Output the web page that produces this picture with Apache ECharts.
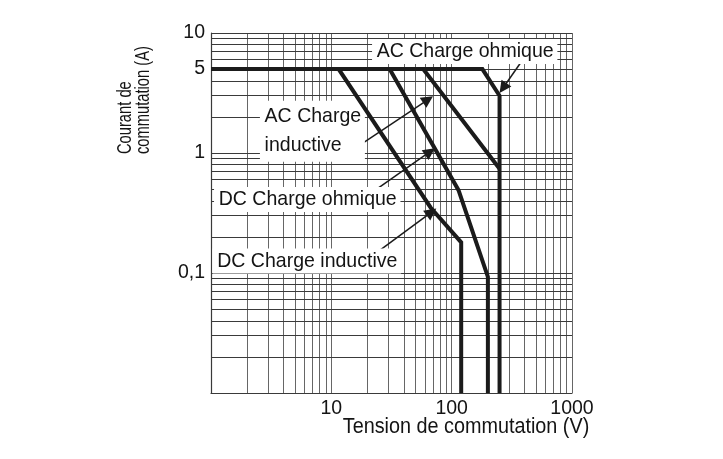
<!DOCTYPE html>
<html><head><meta charset="utf-8">
<script src="https://cdn.jsdelivr.net/npm/echarts@6/dist/echarts.min.js"></script>
<style>html,body{margin:0;padding:0;background:#fff}#c{width:723px;height:459px}</style>
</head><body><div id="c"></div>
<script>
// ---- tick labels ----
const xTickLabels = [10, 100, 1000];
const yTickLabels = [0.1, 1, 5, 10];
// ---- grid lines (values) ----
const xGridValues = [2,3,4,5,6,7,8,9,10,20,30,40,50,60,70,80,90,100,200,300,400,500,600,700,800,900,1000];
const yGridValues = [0.02,0.03,0.04,0.05,0.06,0.07,0.08,0.09,0.1,0.2,0.3,0.4,0.5,0.6,0.7,0.8,0.9,1,2,3,4,5,6,7,8,9,10];
// ---- curves [voltage V, current A] ----
const acOhmique   = [[1,5],[180,5],[250,3],[250,0.01]];
const acInductive = [[1,5],[58,5],[250,0.74]];
const dcOhmique   = [[1,5],[30.5,5],[114,0.49],[200,0.093],[200,0.01]];
const dcInductive = [[1,5],[11.5,5],[67,0.35],[120,0.18],[120,0.01]];
// ---- annotations (anchor = left / middle of label, in data units) ----
const labelTexts   = ['AC Charge ohmique', 'AC Charge\ninductive', 'DC Charge ohmique', 'DC Charge inductive'];
const labelAnchors = [[21.8,7.0],[2.55,1.52],[1.06,0.41],[1.03,0.126]];
const arrowLines = [
  [[415,6.55],[267,3.48]],
  [[14.3,1.027],[63.6,2.79]],
  [[21.8,0.47],[66.1,1.025]],
  [[25.4,0.155],[68,0.322]]
];
const xName = 'Tension de commutation (V)';
const yName = 'Courant de\ncommutation (A)';

const FONT = 'Liberation Sans, Arial, sans-serif';
const FS = 19.5;
const INK = '#141414';
const chart = echarts.init(document.getElementById('c'), null, {renderer:'canvas'});

const curveStyle = {width:4, color:'#1b1b1b', join:'miter', opacity:1};
function curve(name, data){
  return {name, type:'line', data, showSymbol:false, symbol:'none', z:7,
    lineStyle: curveStyle, animation:false, silent:true};
}
const gridLines = xGridValues.map(v => ({xAxis:v, lineStyle:{color:'#666', width:1, type:'solid'}}))
  .concat(yGridValues.map(v => ({yAxis:v, lineStyle:{color:'#3a3a3a', width:1, type:'solid'}})));

chart.setOption({
  backgroundColor:'#fff',
  animation:false,
  grid:{left:211, right:151, top:33, bottom:66, containLabel:false},
  xAxis:{type:'log', logBase:10, min:1, max:1000,
    axisLine:{show:true, lineStyle:{color:'#3a3a3a', width:1.2}},
    axisTick:{show:false}, splitLine:{show:false}, minorSplitLine:{show:false},
    axisLabel:{customValues:xTickLabels, fontSize:FS, fontFamily:FONT, color:INK, margin:6,
      formatter: v => String(v)}},
  yAxis:{type:'log', logBase:10, min:0.01, max:10,
    axisLine:{show:true, lineStyle:{color:'#3a3a3a', width:1.2}},
    axisTick:{show:false}, splitLine:{show:false},
    axisLabel:{customValues:yTickLabels, fontSize:FS, fontFamily:FONT, color:INK, margin:6,
      formatter: v => String(+v.toPrecision(6)).replace('.', ',')}},
  series:[
    {type:'line', data:[[1,0.01]], showSymbol:false, lineStyle:{opacity:0}, silent:true, z:1,
      markLine:{silent:true, symbol:['none','none'], label:{show:false}, z:1, animation:false,
        lineStyle:{type:'solid'}, emphasis:{disabled:true}, data:gridLines}},
    curve('AC Charge inductive', acInductive),
    curve('AC Charge ohmique', acOhmique),
    curve('DC Charge ohmique', dcOhmique),
    curve('DC Charge inductive', dcInductive),
    {type:'lines', coordinateSystem:'cartesian2d', z:5, silent:true, animation:false,
      symbol:['none','triangle'], symbolSize:[8,12],
      lineStyle:{color:'#1b1b1b', width:1.5, opacity:1},
      data: arrowLines.map(c => ({coords:c}))}
  ]
});

const toPx = p => chart.convertToPixel({gridIndex:0}, p);
const annot = labelTexts.map((t, i) => {
  const p = toPx(labelAnchors[i]);
  return {type:'text', x:p[0], y:p[1], z:6, scaleX:0.93, silent:true,
    style:{text:t, font:'21px '+FONT, fill:INK, align:'left', verticalAlign:'middle',
      lineHeight: t.indexOf('\n') >= 0 ? 29 : 22,
      backgroundColor:'#fff', padding:[2,4,1,5]}};
});
chart.setOption({graphic: annot.concat([
  {type:'text', x:466, y:427, z:6, scaleX:0.9, silent:true,
    style:{text:xName, font:'22px '+FONT, fill:INK, align:'center', verticalAlign:'middle'}},
  {type:'text', x:134, y:154, rotation:Math.PI/2, scaleX:0.7, z:6, silent:true,
    style:{text:yName, font:'21px '+FONT, fill:INK, align:'left', verticalAlign:'middle', lineHeight:18}}
])});
</script></body></html>
